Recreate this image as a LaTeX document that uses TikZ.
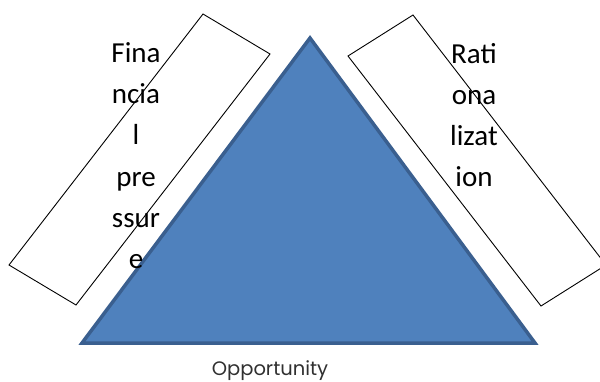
\documentclass[tikz,border=0pt]{standalone}
\usepackage{fontspec}
\newfontfamily\carlito{Carlito}
\newfontfamily\oppfont{Poppins}
\definecolor{trifill}{HTML}{4F81BD}
\definecolor{triedge}{HTML}{3A5F8F}
\definecolor{txtgray}{HTML}{303030}
\begin{document}
\begin{tikzpicture}[x=1pt,y=-1pt,
  boxline/.style={draw=black,line width=0.9pt,fill=white},
  frag/.style={anchor=base,inner sep=0pt,font=\carlito\fontsize{29}{34}\selectfont},
  opplabel/.style={anchor=base,inner sep=0pt,text=txtgray,font=\oppfont\fontsize{19.5}{24}\selectfont}]
\useasboundingbox (0,0) rectangle (600,381);
\clip (0,0) rectangle (600,381);
% rotated boxes
\draw[boxline] (203,14) -- (270,54) -- (76,305) -- (9,265) -- cycle;
\draw[boxline] (413,15) -- (348,56) -- (541,306) -- (606,265) -- cycle;
% triangle
\draw[fill=trifill,draw=triedge,line width=3.5pt,line join=miter]
  (82,343) -- (310,38) -- (535,343) -- cycle;
% left text
\node[frag] (f1) at (136,62) {Fina};
\node[frag] (f2) at (136,103) {ncia};
\node[frag] (f3) at (136,144) {l};
\node[frag] (f4) at (136,186) {pre};
\node[frag] (f5) at (136,227) {ssur};
\node[frag] (f6) at (136,268) {e};
% right text
\node[frag] (r1) at (474,63) {Rati};
\node[frag] (r2) at (474,104) {ona};
\node[frag] (r3) at (474,145) {lizat};
\node[frag] (r4) at (474,186) {ion};
% bottom label
\node[opplabel] (opp) at (270,375) {Opportunity};
\end{tikzpicture}
\end{document}
